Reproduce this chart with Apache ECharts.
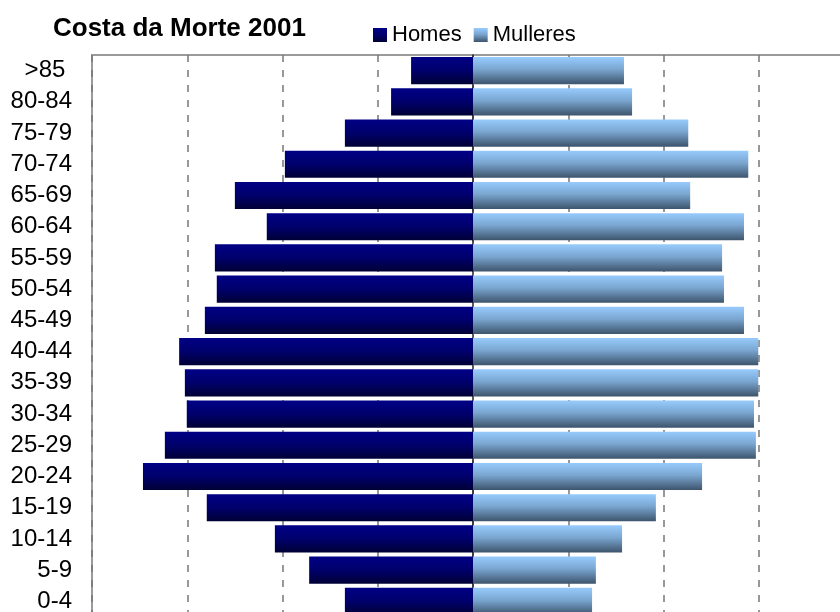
<!DOCTYPE html>
<html lang="gl">
<head>
    <meta charset="UTF-8">
    <title>Costa da Morte 2001</title>
    <style>
        html, body { margin: 0; padding: 0; background: #fff; overflow: hidden; }
        /* o gráfico orixinal está recortado pola dereita e por abaixo */
        #main { width: 854px; height: 617px; }
    </style>
</head>
<body>
<div id="main"></div>
<script src="https://cdn.jsdelivr.net/npm/echarts@6/dist/echarts.min.js"></script>
<script>
    // grupos de idade, de arriba a abaixo
    var ages = ['>85 ', '80-84', '75-79', '70-74', '65-69', '60-64', '55-59', '50-54', '45-49',
        '40-44', '35-39', '30-34', '25-29', '20-24', '15-19', '10-14', '5-9', '0-4'];
    var homes = [1300, 1720, 2690, 3950, 5000, 4330, 5420, 5380, 5630,
        6170, 6050, 6010, 6470, 6930, 5590, 4160, 3440, 2690];
    var mulleres = [3170, 3340, 4520, 5780, 4560, 5690, 5230, 5270, 5690,
        5990, 5990, 5900, 5940, 4810, 3840, 3130, 2580, 2500];

    var font = 'Liberation Sans, Arial, sans-serif';

    var homesColor = new echarts.graphic.LinearGradient(0, 0, 0, 1, [
        {offset: 0, color: '#000086'},
        {offset: 0.5, color: '#00006c'},
        {offset: 1, color: '#000035'}
    ]);
    var mulleresColor = new echarts.graphic.LinearGradient(0, 0, 0, 1, [
        {offset: 0, color: '#97cbfd'},
        {offset: 0.45, color: '#7aa6d0'},
        {offset: 1, color: '#3d546c'}
    ]);

    var myChart = echarts.init(document.getElementById('main'));
    var option = {
        animation: false,
        title: {
            text: 'Costa da Morte 2001',
            left: 48,
            top: 11,
            textStyle: {fontFamily: font, fontSize: 26, fontWeight: 'bold', color: '#000'}
        },
        legend: {
            data: ['Homes', 'Mulleres'],
            left: 368,
            top: 19,
            itemWidth: 14,
            itemHeight: 14,
            itemGap: 12,
            icon: 'rect',
            textStyle: {fontFamily: font, fontSize: 22, color: '#000'}
        },
        grid: {
            left: 92,
            top: 55,
            right: 0,
            bottom: 0,
            show: true,
            borderColor: '#9a9a9a',
            borderWidth: 2
        },
        xAxis: {
            type: 'value',
            min: -8000,
            max: 8000,
            interval: 2000,
            axisLabel: {show: false},
            axisLine: {show: false},
            axisTick: {show: false},
            splitLine: {
                lineStyle: {color: '#777', width: 1.5, type: [7, 8]}
            }
        },
        yAxis: [{
            type: 'category',
            data: ages,
            inverse: true,
            position: 'left',
            axisLine: {show: false, onZero: false},
            axisTick: {show: false},
            axisLabel: {interval: 0, fontFamily: font, fontSize: 24, color: '#000', margin: 20}
        }, {
            type: 'category',
            data: ages,
            inverse: true,
            position: 'left',
            axisLine: {onZero: true, lineStyle: {color: '#222', width: 1.5}},
            axisTick: {interval: 0, length: 8, lineStyle: {color: '#888', width: 1.5}},
            axisLabel: {show: false}
        }],
        series: [{
            name: 'Homes',
            type: 'bar',
            stack: 'pir',
            barCategoryGap: '13%',
            data: homes.map(function (v) { return -v; }),
            itemStyle: {color: homesColor}
        }, {
            name: 'Mulleres',
            type: 'bar',
            stack: 'pir',
            barCategoryGap: '13%',
            data: mulleres,
            itemStyle: {color: mulleresColor}
        }]
    };
    myChart.setOption(option);
</script>
</body>
</html>
